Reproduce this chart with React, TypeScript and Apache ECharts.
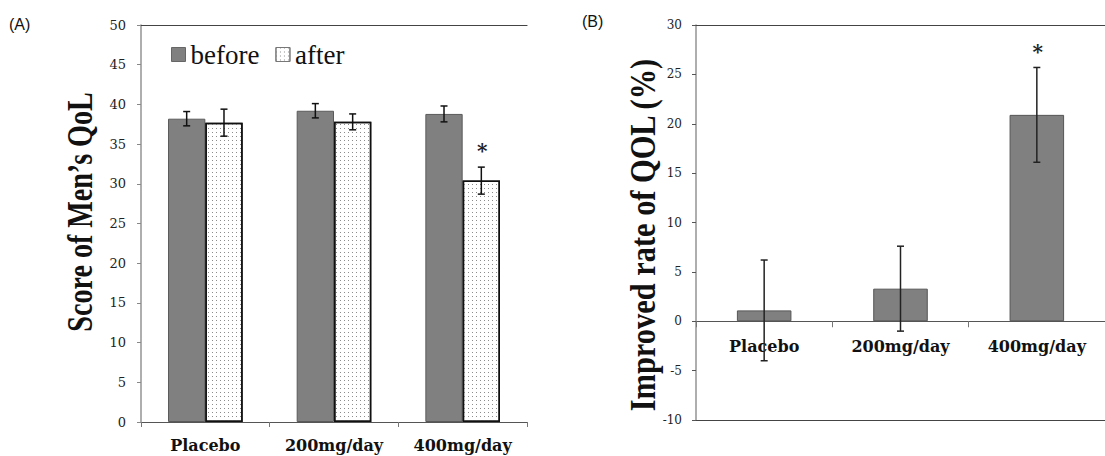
import React, { useEffect, useRef } from 'react';
import * as echarts from 'echarts';

const categories = ['Placebo', '200mg/day', '400mg/day'];
const beforeScores = [38.2, 39.2, 38.8];
const beforeErrors = [0.9, 0.9, 1.0];
const afterScores = [37.7, 37.8, 30.4];
const afterErrors = [1.7, 1.0, 1.7];
const afterSignificant = [0, 0, 1];
const improvedRates = [1.1, 3.3, 20.9];
const improvedErrors = [5.1, 4.3, 4.8];
const improvedSignificant = [0, 0, 1];
const scoreAxis = { min: 0, max: 50, interval: 5 };
const rateAxis = { min: -10, max: 30, interval: 5 };
const legendNames = ['before', 'after'];
const titleA = 'Score of Men\u2019s QoL';
const titleB = 'Improved rate of QOL (%)';

const SERIF = 'DejaVu Serif';

const dotDecal = {
  symbol: 'rect',
  symbolSize: 1,
  color: '#8c8c8c',
  dashArrayX: [1, 3],
  dashArrayY: [1, 3],
  rotation: 0,
};

function errorBars(offsetSign: number, barFrac: number, capHalf: number, color: string, starGap: number) {
  return (params: any, api: any) => {
    const i = api.value(0);
    const v = api.value(1);
    const e = api.value(2);
    const s = api.value(3);
    const band = api.size([1, 0])[0];
    const dx = (offsetSign * band * barFrac) / 2;
    const top = api.coord([i, v + e]);
    const bot = api.coord([i, v - e]);
    const x = top[0] + dx;
    const ls = { stroke: color, lineWidth: 1.5 };
    const children: any[] = [
      { type: 'line', shape: { x1: x, y1: top[1], x2: x, y2: bot[1] }, style: ls },
      { type: 'line', shape: { x1: x - capHalf, y1: top[1], x2: x + capHalf, y2: top[1] }, style: ls },
      { type: 'line', shape: { x1: x - capHalf, y1: bot[1], x2: x + capHalf, y2: bot[1] }, style: ls },
    ];
    if (s) {
      children.push({
        type: 'text',
        x: x + 1,
        y: top[1] - starGap,
        style: {
          text: '*',
          fontFamily: SERIF,
          fontWeight: 'bold',
          fontSize: 20,
          fill: '#222',
          align: 'center',
          verticalAlign: 'middle',
        },
      });
    }
    return { type: 'group', children };
  };
}

export default function App() {
  const ref = useRef<HTMLDivElement>(null);
  useEffect(() => {
    if (!ref.current) return;
    const chart = echarts.init(ref.current, null, { renderer: 'svg' });
    const catLabel = {
      fontFamily: SERIF,
      fontWeight: 'bold',
      fontSize: 16,
      color: '#111',
      margin: 15,
      interval: 0,
    };
    const frameLine = {
      silent: true,
      symbol: 'none',
      label: { show: false },
      lineStyle: { color: '#444', width: 1.2, type: 'solid' },
      data: [{ yAxis: rateAxis.max }, { yAxis: rateAxis.min }],
    };
    const option: any = {
      animation: false,
      backgroundColor: '#fff',
      grid: [
        { left: 141, top: 25, width: 386, height: 397 },
        { left: 696, top: 25, width: 420, height: 395 },
      ],
      legend: {
        data: [
          { name: legendNames[0], itemStyle: { color: '#808080', borderColor: '#666', borderWidth: 1 } },
          {
            name: legendNames[1],
            itemStyle: { color: '#fff', borderColor: '#777', borderWidth: 1, decal: dotDecal },
          },
        ],
        left: 166,
        top: 36,
        itemWidth: 14,
        itemHeight: 14,
        itemGap: 16,
        icon: 'rect',
        textStyle: { fontFamily: 'Liberation Serif', fontSize: 27, color: '#111' },
      },
      xAxis: [
        {
          gridIndex: 0,
          type: 'category',
          data: categories,
          axisLine: { lineStyle: { color: '#555', width: 1.2 } },
          axisTick: { show: true, length: 5, lineStyle: { color: '#777' } },
          axisLabel: catLabel,
        },
        {
          gridIndex: 0,
          type: 'category',
          data: categories,
          position: 'top',
          axisLine: { show: true, onZero: false, lineStyle: { color: '#444', width: 1.2 } },
          axisTick: { show: false },
          axisLabel: { show: false },
          splitLine: { show: false },
        },
        {
          gridIndex: 1,
          type: 'category',
          data: categories,
          axisLine: { onZero: true, lineStyle: { color: '#555', width: 1.2 } },
          axisTick: { show: true, length: 6, lineStyle: { color: '#777' } },
          axisLabel: { ...catLabel, margin: -82 },
        },
      ],
      yAxis: [
        {
          gridIndex: 0,
          type: 'value',
          ...scoreAxis,
          axisLine: { show: true, lineStyle: { color: '#9a9a9a', width: 1.6 } },
          axisTick: { show: true, length: 4, lineStyle: { color: '#888' } },
          axisLabel: { fontFamily: SERIF, fontSize: 13, color: '#222', margin: 15 },
          splitLine: { show: false },
        },
        {
          gridIndex: 1,
          type: 'value',
          ...rateAxis,
          axisLine: { show: true, onZero: false, lineStyle: { color: '#9a9a9a', width: 1.6 } },
          axisTick: { show: true, length: 4, lineStyle: { color: '#555' } },
          axisLabel: { fontFamily: SERIF, fontSize: 12, color: '#222', margin: 14 },
          splitLine: { show: false },
        },
      ],
      series: [
        {
          name: 'before',
          type: 'bar',
          xAxisIndex: 0,
          yAxisIndex: 0,
          data: beforeScores,
          barWidth: '29%',
          barGap: '0%',
          itemStyle: { color: '#808080', borderColor: '#5a5a5a', borderWidth: 1 },
        },
        {
          name: 'after',
          type: 'bar',
          xAxisIndex: 0,
          yAxisIndex: 0,
          data: afterScores,
          barWidth: '29%',
          barGap: '0%',
          itemStyle: {
            color: '#ffffff',
            borderColor: '#111',
            borderWidth: 1.5,
            decal: dotDecal,
          },
        },
        {
          type: 'custom',
          xAxisIndex: 0,
          yAxisIndex: 0,
          z: 5,
          encode: { x: 0, y: 1 },
          data: categories.map((_, i) => [i, beforeScores[i], beforeErrors[i], 0]),
          renderItem: errorBars(-1, 0.29, 3.5, '#111', 16),
        },
        {
          type: 'custom',
          xAxisIndex: 0,
          yAxisIndex: 0,
          z: 5,
          encode: { x: 0, y: 1 },
          data: categories.map((_, i) => [i, afterScores[i], afterErrors[i], afterSignificant[i]]),
          renderItem: errorBars(1, 0.29, 3.5, '#111', 16),
        },
        {
          name: 'improved',
          type: 'bar',
          xAxisIndex: 2,
          yAxisIndex: 1,
          data: improvedRates,
          barWidth: '40%',
          itemStyle: { color: '#808080', borderColor: '#555', borderWidth: 1 },
          markLine: frameLine,
        },
        {
          type: 'custom',
          xAxisIndex: 2,
          yAxisIndex: 1,
          z: 5,
          encode: { x: 0, y: 1 },
          data: categories.map((_, i) => [i, improvedRates[i], improvedErrors[i], improvedSignificant[i]]),
          renderItem: errorBars(0, 0.4, 3.5, '#222', 15),
        },
      ],
      graphic: [
        {
          type: 'text',
          x: 9,
          y: 24,
          style: { text: '(A)', fontFamily: 'Liberation Sans', fontSize: 16, fill: '#111', align: 'left', verticalAlign: 'middle' },
        },
        {
          type: 'text',
          x: 582,
          y: 21,
          style: { text: '(B)', fontFamily: 'Liberation Sans', fontSize: 16, fill: '#111', align: 'left', verticalAlign: 'middle' },
        },
        {
          type: 'text',
          x: 80,
          y: 212,
          rotation: Math.PI / 2,
          scaleX: 0.78,
          style: {
            text: titleA,
            fontFamily: 'Liberation Serif',
            fontWeight: 'bold',
            fontSize: 36,
            fill: '#111',
            align: 'center',
            verticalAlign: 'middle',
          },
        },
        {
          type: 'text',
          x: 643,
          y: 235,
          rotation: Math.PI / 2,
          scaleX: 0.845,
          style: {
            text: titleB,
            fontFamily: 'Liberation Serif',
            fontWeight: 'bold',
            fontSize: 36,
            fill: '#111',
            align: 'center',
            verticalAlign: 'middle',
          },
        },
      ],
    };
    chart.setOption(option);
    return () => chart.dispose();
  }, []);
  return (
    <div
      ref={ref}
      style={{ position: 'absolute', left: 0, top: 0, width: 1105, height: 456 }}
    />
  );
}
